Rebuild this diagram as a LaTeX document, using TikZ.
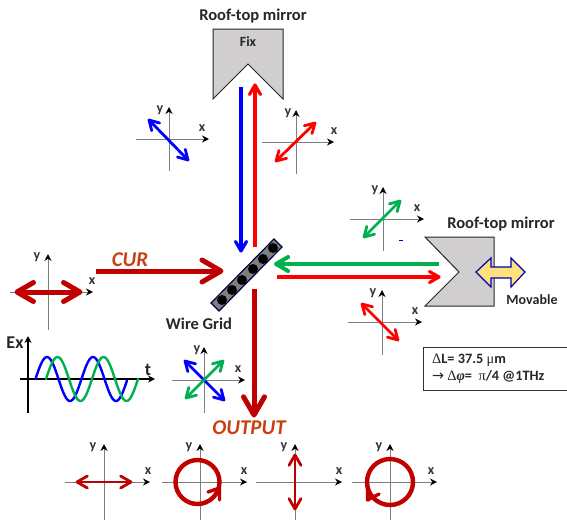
\documentclass[tikz,border=0pt]{standalone}
\usepackage{fontspec}
\setmainfont{Carlito}
\newfontfamily\serifgr{Liberation Serif}
\newfontfamily\symfont{DejaVu Sans}
\usetikzlibrary{arrows.meta,calc}
\definecolor{dred}{HTML}{C00000}
\definecolor{orred}{HTML}{C8400F}
\definecolor{gblue}{HTML}{0000FF}
\definecolor{ggreen}{HTML}{00B050}
\definecolor{rred}{HTML}{FF0000}
\definecolor{mirr}{HTML}{D0CECE}
\definecolor{axgray}{HTML}{7F7F7F}
\tikzset{
  axisline/.style={draw=axgray,line width=1pt},
  axishead/.style={-{Stealth[length=7pt,width=7pt,color=black]}},
  axlabel/.style={font=\bfseries\fontsize{14}{14}\selectfont,text=black!80,inner sep=0pt},
  pol/.style={line width=2.8pt},
  beam/.style={line width=3.2pt},
  fatbeam/.style={line width=5pt},
  mirror/.style={draw=black!85,line width=1pt,fill=mirr,line join=miter},
  lbl/.style={font=\bfseries\fontsize{16.5}{16.5}\selectfont,text=black!85,inner sep=0pt},
  smalllbl/.style={font=\bfseries\fontsize{14}{14}\selectfont,text=black!85,inner sep=0pt},
  bigit/.style={font=\bfseries\itshape\fontsize{21}{21}\selectfont,text=orred,inner sep=0pt},
  circ/.style={draw=dred,line width=4.4pt},
  chev/.style={draw=dred,line width=3.4pt,line cap=round,line join=round},
  wave/.style={line width=2.4pt,line cap=round},
  boxtext/.style={anchor=west,inner sep=0pt,font=\fontsize{14.3}{14.3}\selectfont\bfseries,text=black!85}
}
% barb head at #2 pointing away from #3
\newcommand{\barb}[5]{%
  \draw[#1,line cap=round,line join=round] ($(#2)!#4pt!#5:(#3)$) -- (#2) -- ($(#2)!#4pt!-#5:(#3)$);
}
% one-way arrow: style, from, to, barb length
\newcommand{\onearrow}[4]{%
  \draw[#1,shorten >=1.2pt] (#2) -- (#3);
  \barb{#1}{#3}{#2}{#4}{30}
}
% two-way arrow
\newcommand{\twoarrow}[4]{%
  \draw[#1,shorten >=1.2pt,shorten <=1.2pt] (#2) -- (#3);
  \barb{#1}{#3}{#2}{#4}{30}
  \barb{#1}{#2}{#3}{#4}{30}
}
% #1 name, #2 ox, #3 oy, #4 left, #5 right, #6 top, #7 bottom, #8 ylabel x, #9 xlabel x
\newcommand{\myaxes}[9]{%
  \coordinate (#1o) at (#2,#3);
  \coordinate (#1l) at (#4,#3);
  \coordinate (#1r) at (#5,#3);
  \coordinate (#1t) at (#2,#6);
  \coordinate (#1b) at (#2,#7);
  \draw[axisline,axishead] (#1l) -- (#1r);
  \draw[axisline,axishead] (#1b) -- (#1t);
  \node[axlabel] (#1y) at (#8,#6+3) {y};
  \node[axlabel] (#1x) at (#9,#3-11) {x};
}
\begin{document}
\begin{tikzpicture}[x=1pt,y=-1pt]
\useasboundingbox (0,0) rectangle (567,520);
% top mirror
\node[lbl] (toplabel) at (253,16) {Roof-top mirror};
\draw[mirror] (213,99) -- (213,29) -- (283,29) -- (283,99) -- (248,64) -- cycle;
\node[smalllbl] (fix) at (248,42) {Fix};
% right mirror
\node[lbl] (rightlabel) at (501,224) {Roof-top mirror};
\draw[mirror] (425,237) -- (494,237) -- (494,306) -- (425,306) -- (459,272) -- cycle;
\draw[draw=blue!70!black,line width=1.2pt,line join=miter,fill=yellow!60!orange!50!white]
  (476,272) -- (491,258) -- (491,267) -- (511,267) -- (511,258) -- (525,272) -- (511,287) -- (511,278) -- (491,278) -- (491,287) -- cycle;
\node[smalllbl] (movable) at (532,300) {Movable};
% main beams
\coordinate (bt) at (241,87); \coordinate (bb) at (241,251);
\onearrow{beam,draw=gblue}{bt}{bb}{11}
\coordinate (rb) at (255,247); \coordinate (rt) at (255,85);
\onearrow{beam,draw=rred}{rb}{rt}{11}
\coordinate (gs) at (439,264); \coordinate (ge) at (276,264);
\onearrow{line width=4pt,draw=ggreen}{gs}{ge}{14}
\coordinate (hs) at (277,277); \coordinate (he) at (439,277);
\onearrow{beam,draw=rred}{hs}{he}{11}
\coordinate (cs) at (96,271); \coordinate (ce) at (221,271);
\onearrow{fatbeam,draw=dred}{cs}{ce}{22}
\node[bigit] (cur) at (130,260) {CUR};
\coordinate (os) at (254,289); \coordinate (oe) at (254,415);
\onearrow{fatbeam,draw=dred}{os}{oe}{21}
\node[bigit] (output) at (249,428) {OUTPUT};
% wire grid
\draw[draw=blue!30!black,line width=1.2pt,fill=axgray] (211,303) -- (219,311) -- (282,247) -- (274,239) -- cycle;
\foreach \p [count=\i] in {(222,300),(232,290),(242,280),(253,269),(263,259),(273,248)}
  \fill[black] \p circle (5);
\node[lbl] (wg) at (199,324) {Wire Grid};
% axes: top
\myaxes{a}{169}{139}{136}{209}{107}{171}{160}{202}
\coordinate (a1) at (149,120); \coordinate (a2) at (188,160);
\twoarrow{pol,draw=gblue}{a1}{a2}{11}
\myaxes{b}{296}{142}{262}{334}{110}{174}{288}{334}
\coordinate (b1) at (276,161); \coordinate (b2) at (315,123);
\twoarrow{pol,draw=rred}{b1}{b2}{11}
% right
\myaxes{c}{383}{219}{350}{424}{187}{251}{375}{417}
\coordinate (c1) at (364,237); \coordinate (c2) at (400,201);
\twoarrow{pol,draw=ggreen}{c1}{c2}{11}
\draw[draw=blue!80!black,line width=0.8pt] (399,240) -- (403,240);
\myaxes{d}{382}{322}{348}{422}{290}{355}{373}{415}
\coordinate (d1) at (362,304); \coordinate (d2) at (398,340);
\twoarrow{pol,draw=rred}{d1}{d2}{11}
% left
\myaxes{e}{48}{292}{10}{93}{254}{330}{37}{92}
\coordinate (e1) at (17,292); \coordinate (e2) at (80,292);
\twoarrow{fatbeam,draw=dred}{e1}{e2}{19}
% blue/green
\myaxes{f}{204}{380}{172}{245}{347}{413}{197}{238}
\coordinate (f1) at (185,361); \coordinate (f2) at (224,400);
\twoarrow{pol,draw=gblue}{f1}{f2}{11}
\coordinate (f3) at (186,398); \coordinate (f4) at (223,361);
\twoarrow{pol,draw=ggreen}{f3}{f4}{11}
% Ex plot
\coordinate (pb) at (28,413); \coordinate (pt) at (28,336);
\coordinate (pl) at (20,379); \coordinate (pr) at (155,379);
\draw[line width=1.7pt,-{Stealth[length=7pt,width=7pt]}] (pb) -- (pt);
\draw[line width=1.7pt,-{Stealth[length=7pt,width=7pt]}] (pl) -- (pr);
\node[font=\bfseries\fontsize{18}{18}\selectfont,text=black!85,inner sep=0pt] (ex) at (15,343) {Ex};
\node[font=\bfseries\fontsize{18}{18}\selectfont,text=black!85,inner sep=0pt] (tl) at (148,370) {t};
\draw[wave,draw=gblue] plot[domain=35.5:127,samples=120] (\x,{379-22*sin(7.826*(\x-35.5))});
\draw[wave,draw=ggreen] plot[domain=46:138,samples=120] (\x,{379-22*sin(7.826*(\x-46))});
% bottom row
\myaxes{g}{104}{482}{65}{150}{444}{520}{93}{148}
\coordinate (g1) at (77,482); \coordinate (g2) at (131,482);
\twoarrow{pol,draw=dred}{g1}{g2}{12}
\myaxes{h}{200}{482}{162}{247}{444}{520}{189}{244}
\draw[circ] (197.5,482) circle (22);
\draw[chev] (208,492) -- (219.5,488) -- (219.5,500);
\myaxes{i}{295}{482}{256}{342}{444}{520}{284}{339}
\coordinate (i1) at (295,455); \coordinate (i2) at (295,509);
\twoarrow{pol,draw=dred}{i1}{i2}{12}
\myaxes{j}{390}{482}{352}{437}{444}{520}{379}{431}
\draw[circ] (390,482) circle (23);
\draw[chev] (367.5,486) -- (367.5,500) -- (379,494);
% text box
\node[draw=black!80,line width=1pt,fill=white,minimum width=144pt,minimum height=43pt,anchor=north west,inner sep=0pt] (box) at (423,347) {};
\node[boxtext] (l1) at (432,360) {{\serifgr\mdseries Δ}L= 37.5 {\serifgr\mdseries μ}m};
\node[boxtext] (l2) at (432,377) {{\symfont\mdseries→} {\serifgr\mdseries Δ}{\serifgr\itshape φ}=\ \ {\serifgr\mdseries π}/4 @1THz};
\end{tikzpicture}
\end{document}
